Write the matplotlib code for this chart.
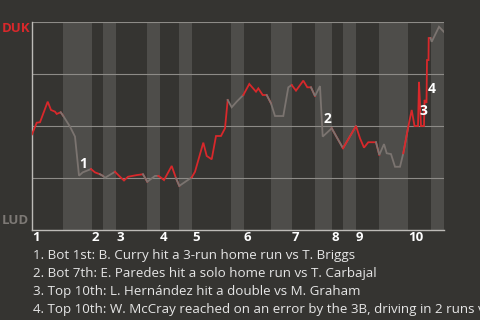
import numpy as np
import matplotlib
matplotlib.use('Agg')
import matplotlib.pyplot as plt

# win probability for DUK, x = game progress (plays)
play_x = [0, 4.7, 8, 15.7, 19, 23, 24.7, 28.7, 31.3, 38, 43, 47, 50.7, 59,
          63, 68, 71, 73, 83, 88, 92, 96, 104.7, 111, 115.3, 123, 126.3,
          128.7, 132, 139.7, 144, 147.3, 159.7, 163, 171.3, 174.7, 179.7,
          184, 189, 193, 195.7, 199.7, 204.7, 211.3, 217.3, 224, 226.3,
          230.7, 234.7, 239, 243, 251.3, 256.3, 259.7, 264, 271.3, 275.3,
          279, 283, 288, 290.7, 299.7, 311, 324, 328, 332, 336.3, 344,
          347.3, 352, 354.7, 359, 363, 368, 371.3, 376.3, 379.7, 382.5,
          386, 387, 388, 389, 392, 392.5, 394.5, 395, 396.5, 396.7, 398.5,
          399.7, 407, 412]
win_prob = [0.46, 0.516, 0.518, 0.617, 0.577, 0.569, 0.558, 0.566, 0.548,
            0.497, 0.449, 0.261, 0.277, 0.293, 0.277, 0.268, 0.26, 0.251,
            0.28, 0.256, 0.238, 0.256, 0.264, 0.268, 0.232, 0.26, 0.26,
            0.253, 0.24, 0.308, 0.249, 0.212, 0.253, 0.28, 0.42, 0.356,
            0.34, 0.452, 0.452, 0.489, 0.625, 0.59, 0.617, 0.649, 0.702,
            0.665, 0.681, 0.649, 0.649, 0.609, 0.548, 0.548, 0.686, 0.697,
            0.67, 0.718, 0.686, 0.686, 0.644, 0.692, 0.449, 0.489, 0.393,
            0.5, 0.441, 0.396, 0.422, 0.422, 0.361, 0.413, 0.369, 0.365,
            0.304, 0.304, 0.369, 0.497, 0.577, 0.5, 0.5, 0.712, 0.606, 0.5,
            0.5, 0.625, 0.611, 0.817, 0.817, 0.923, 0.923, 0.905, 0.977,
            0.952]

# half-inning boundaries (top, bottom, top, bottom, ...)
half_bounds = [0, 31, 60, 71, 84, 115, 128, 147, 160, 199, 212, 239, 260,
               283, 300, 311, 324, 347, 376, 399, 412]
inning_labels = ['1', '2', '3', '4', '5', '6', '7', '8', '9', '10']

# key plays
event_x = [50.7, 295.3, 391.3, 399.7]
event_y = [0.317, 0.532, 0.574, 0.676]
event_text = [
    "1. Bot 1st: B. Curry hit a 3-run home run vs T. Briggs",
    "2. Bot 7th: E. Paredes hit a solo home run vs T. Carbajal",
    "3. Top 10th: L. Hernández hit a double vs M. Graham",
    "4. Top 10th: W. McCray reached on an error by the 3B, driving in 2 runs vs M. Graham",
]

bg = '#353431'
band = '#4e4d4a'
red = '#d8282b'
gray = '#7b7470'

plt.rcParams['font.family'] = ['Open Sans', 'DejaVu Sans']
fig = plt.figure(figsize=(4.8, 3.2), dpi=100, facecolor=bg)
ax = fig.add_axes([32/480, 1-230/320, 412/480, 208/320])
ax.set_facecolor(bg)

# shade bottom halves
for i in range(1, len(half_bounds)-1, 2):
    ax.axvspan(half_bounds[i], half_bounds[i+1], color=band, lw=0, zorder=0)

for yv in [0.25, 0.5, 0.75, 1.0]:
    ax.axhline(yv, color='#8d8b87', lw=0.8, zorder=1)

px = np.array(play_x)
py = np.array(win_prob)
for i in range(len(half_bounds)-1):
    a, b = half_bounds[i], half_bounds[i+1]
    idx = np.where((px >= a) & (px <= b + 0.6))[0]
    prev = np.where(px < a)[0]
    if len(prev):
        idx = np.concatenate([[prev[-1]], idx])
    col = red if i % 2 == 0 else gray
    ax.plot(px[idx], py[idx], color=col, lw=1.3, zorder=3,
            solid_joinstyle='miter')

for xv, yv, n in zip(event_x, event_y, range(1, 5)):
    ax.text(xv, yv, str(n), color='white', fontsize=10, fontweight='bold',
            ha='center', va='center', zorder=5)

ax.set_xlim(0, 412)
ax.set_ylim(0, 1)
ax.set_yticks([])
inning_starts = [half_bounds[j] for j in range(0, len(half_bounds)-1, 2)]
ax.set_xticks(inning_starts)
ax.set_xticklabels(inning_labels, color='white', fontsize=9.5,
                   fontweight='bold', ha='left')
ax.tick_params(axis='x', length=0, pad=1)
for s in ['top', 'right']:
    ax.spines[s].set_visible(False)
for s in ['left', 'bottom']:
    ax.spines[s].set_color('#bdbbb7')
    ax.spines[s].set_linewidth(1.0)

fig.text(2/480, 1-29/320, 'DUK', color=red, fontsize=9.5,
         fontweight='bold', va='center', ha='left')
fig.text(2/480, 1-221/320, 'LUD', color='#7d7975', fontsize=9.5,
         fontweight='bold', va='center', ha='left')

for k, t in enumerate(event_text):
    fig.text(33/480, 1-(255+18*k)/320, t, color='#e6e6e6', fontsize=9.6,
             va='center', ha='left')

fig.savefig('out.png', dpi=100, facecolor=bg)
